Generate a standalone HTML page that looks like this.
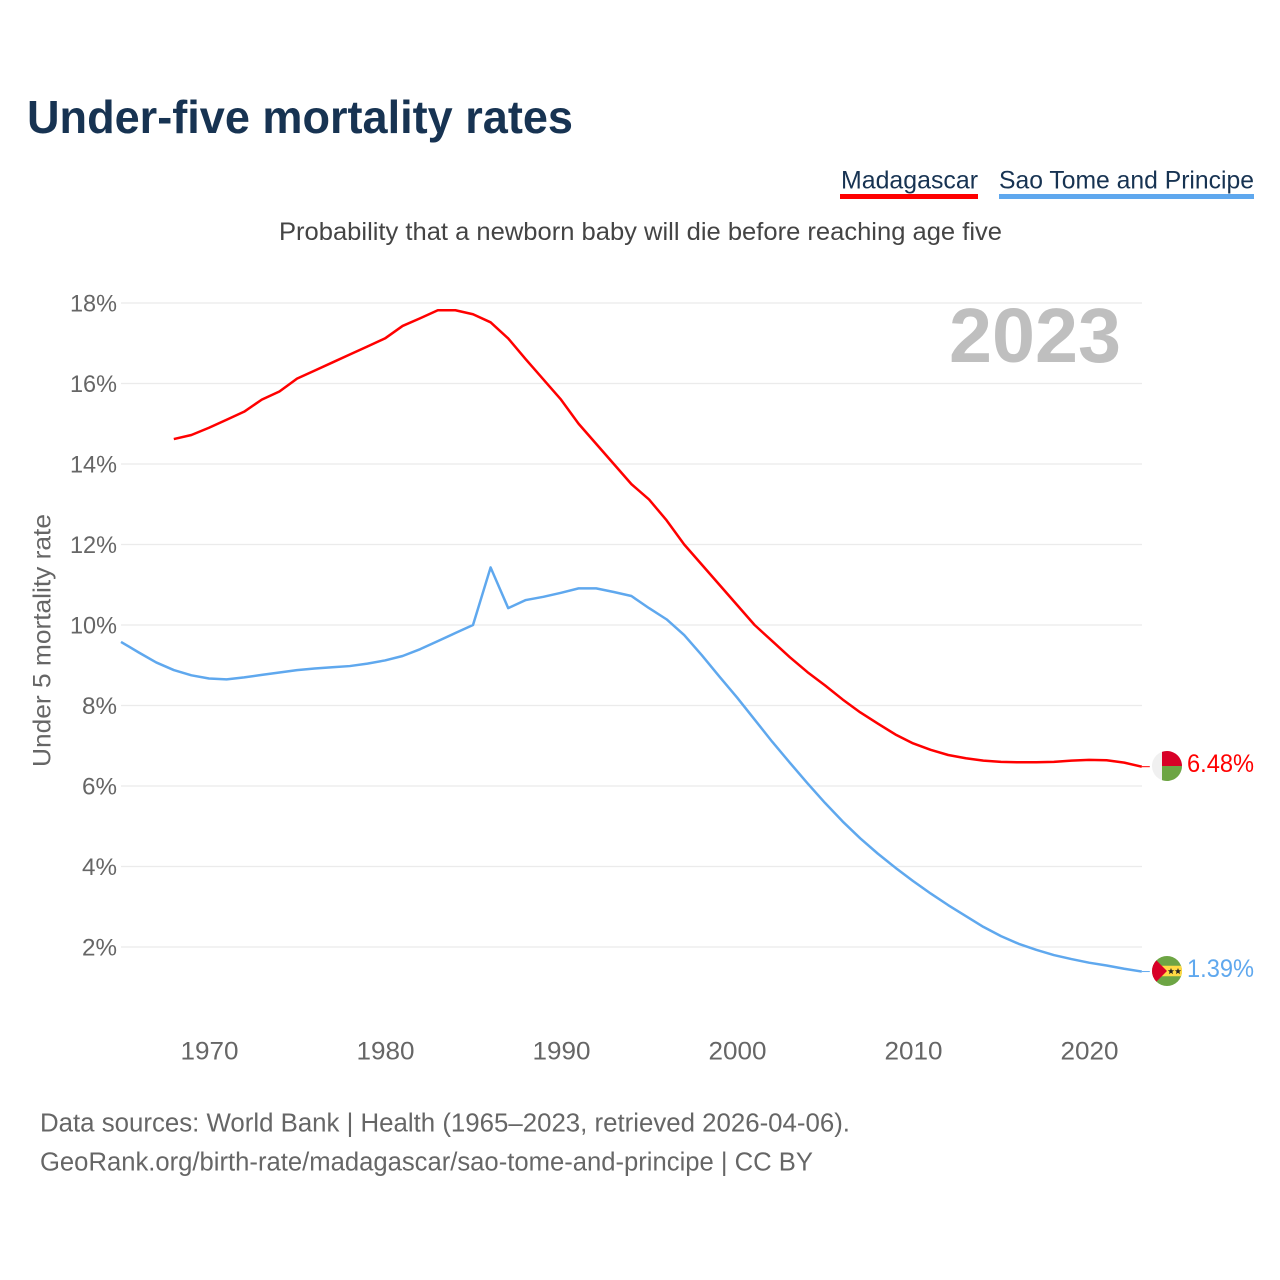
<!DOCTYPE html>
<html lang="en">
<head>
<meta charset="utf-8">
<title>Under-five mortality rates</title>
<style>
html,body{margin:0;padding:0;background:#fff;width:1280px;height:1280px;overflow:hidden}
svg{display:block;font-family:"Liberation Sans",sans-serif}
</style>
</head>
<body>
<svg id="chart" width="1280" height="1280" viewBox="0 0 1280 1280" xmlns="http://www.w3.org/2000/svg">
  <rect width="1280" height="1280" fill="#fff"/>
  <text x="27" y="133" font-size="46" font-weight="700" fill="#173352" textLength="546" lengthAdjust="spacingAndGlyphs">Under-five mortality rates</text>
  <g>
    <text x="841" y="188.5" font-size="25" fill="#173352" textLength="137" lengthAdjust="spacingAndGlyphs">Madagascar</text>
    <rect x="840" y="194" width="138" height="5" fill="#ff0000"/>
  </g>
  <g>
    <text x="999" y="188.5" font-size="25" fill="#173352" textLength="255" lengthAdjust="spacingAndGlyphs">Sao Tome and Principe</text>
    <rect x="999" y="194" width="255" height="5" fill="#5fa8ee"/>
  </g>
  <text x="279" y="240" font-size="25" fill="#444" textLength="723" lengthAdjust="spacingAndGlyphs">Probability that a newborn baby will die before reaching age five</text>
  <g id="grid"></g>
  <g id="yticks"></g>
  <g id="xticks"></g>
  <text transform="translate(50.5,767) rotate(-90)" font-size="25" fill="#666" textLength="253" lengthAdjust="spacingAndGlyphs">Under 5 mortality rate</text>
  <text x="949" y="362" font-size="77" font-weight="700" fill="#bfbfbf" textLength="172" lengthAdjust="spacingAndGlyphs">2023</text>
  <g id="series"></g>
  <g>
    <circle cx="1167" cy="766" r="15" fill="#f0f0f0"/>
    <path d="M1162 766V751.9A15 15 0 0 1 1182 766Z" fill="#d80027"/>
    <path d="M1162 766V780.1A15 15 0 0 0 1182 766Z" fill="#6da544"/>
  </g>
  <g>
    <circle cx="1167" cy="971" r="15" fill="#6da544"/>
    <path d="M1160 965.8H1181.1A15 15 0 0 1 1181.1 976.2H1160Z" fill="#ffda44"/>
    <path d="M1156.4 960.4L1167 971L1156.4 981.6A15 15 0 0 1 1156.4 960.4Z" fill="#d80027"/>
    <path d="M1171 968l.9 2.2 2.3.1-1.8 1.5.6 2.3-2-1.3-2 1.3.6-2.3-1.8-1.5 2.3-.1Z" fill="#222"/>
    <path d="M1178 968l.9 2.2 2.3.1-1.8 1.5.6 2.3-2-1.3-2 1.3.6-2.3-1.8-1.5 2.3-.1Z" fill="#222"/>
  </g>
  <text id="lab1" x="1187" y="772" font-size="25" fill="#ff0000" textLength="67" lengthAdjust="spacingAndGlyphs"></text>
  <text id="lab2" x="1187" y="977" font-size="25" fill="#5fa8ee" textLength="67" lengthAdjust="spacingAndGlyphs"></text>
  <text x="40" y="1131.5" font-size="25.5" fill="#666" textLength="810" lengthAdjust="spacingAndGlyphs">Data sources: World Bank | Health (1965–2023, retrieved 2026-04-06).</text>
  <text x="40" y="1170.5" font-size="25.5" fill="#666" textLength="773" lengthAdjust="spacingAndGlyphs">GeoRank.org/birth-rate/madagascar/sao-tome-and-principe | CC BY</text>
</svg>
<script>
const yTickValues = [2, 4, 6, 8, 10, 12, 14, 16, 18];
const xTickYears = [1970, 1980, 1990, 2000, 2010, 2020];
const madagascarStartYear = 1968;
const madagascarValues = [14.62,14.72,14.9,15.1,15.3,15.6,15.8,16.12,16.32,16.52,16.72,16.92,17.12,17.43,17.62,17.82,17.82,17.72,17.52,17.12,16.6,16.1,15.6,15.0,14.5,14.0,13.5,13.12,12.6,12.0,11.5,11.0,10.5,10.0,9.6,9.2,8.83,8.5,8.15,7.83,7.55,7.28,7.06,6.9,6.77,6.69,6.63,6.6,6.59,6.59,6.6,6.63,6.65,6.64,6.58,6.48];
const saoTomeStartYear = 1965;
const saoTomeValues = [9.58,9.32,9.07,8.88,8.75,8.67,8.65,8.7,8.76,8.82,8.88,8.92,8.95,8.98,9.04,9.12,9.23,9.4,9.6,9.8,10.0,11.43,10.42,10.62,10.7,10.8,10.91,10.91,10.82,10.72,10.42,10.14,9.75,9.25,8.72,8.2,7.65,7.1,6.58,6.07,5.58,5.12,4.7,4.32,3.97,3.64,3.33,3.04,2.77,2.5,2.27,2.08,1.93,1.8,1.7,1.61,1.54,1.46,1.39];
const NS = 'http://www.w3.org/2000/svg';
function xScale(year) { return 121 + (year - 1965) * 17.6; }
function yScale(v) { return 947 - (v - 2) * 40.25; }
function mk(tag, attrs, parent) {
  const el = document.createElementNS(NS, tag);
  for (const k in attrs) el.setAttribute(k, attrs[k]);
  parent.appendChild(el);
  return el;
}
const grid = document.getElementById('grid');
const yticks = document.getElementById('yticks');
const xticks = document.getElementById('xticks');
const series = document.getElementById('series');
yTickValues.forEach(function (v) {
  const line = mk('line', {x1: 121, x2: 1142, y1: yScale(v), y2: yScale(v), stroke: '#ebebeb', 'stroke-width': 1.2}, grid);
  
  
  const t = mk('text', {x: 117, y: yScale(v) + 8.5, 'font-size': 24, fill: '#666', 'text-anchor': 'end', textLength: v >= 10 ? 47 : 35, lengthAdjust: 'spacingAndGlyphs'}, yticks);
  
  
  t.textContent = v + '%';
});
xTickYears.forEach(function (yr) {
  const t = mk('text', {x: xScale(yr) + 0.5, y: 1059.5, 'font-size': 25, fill: '#666', 'text-anchor': 'middle', textLength: 58, lengthAdjust: 'spacingAndGlyphs'}, xticks);
  
  
  t.textContent = yr;
});
function drawSeries(values, startYear, color, name) {
  const pts = values.map(function (v, i) { return xScale(startYear + i).toFixed(2) + ',' + yScale(v).toFixed(2); }).join(' ');
  const line = mk('polyline', {points: pts, fill: 'none', stroke: color, 'stroke-width': 2.5, 'stroke-linejoin': 'round'}, series);
  
  
  const last = values[values.length - 1];
  const c = mk('line', {x1: xScale(2023), x2: xScale(2023) + 8, y1: yScale(last), y2: yScale(last), stroke: color, 'stroke-width': 1}, series);
  
  
}
drawSeries(madagascarValues, madagascarStartYear, '#ff0000', 'line-madagascar');
drawSeries(saoTomeValues, saoTomeStartYear, '#5fa8ee', 'line-sao-tome');
document.getElementById('lab1').textContent = '6.48%';
document.getElementById('lab2').textContent = '1.39%';
</script>
</body>
</html>
